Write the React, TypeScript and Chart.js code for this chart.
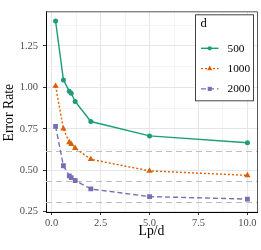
import React, { useEffect, useRef } from 'react';
import { Chart, registerables } from 'chart.js';

Chart.register(...registerables);

// ---- data ----
const LP_D = [0.2, 0.6, 0.9, 1.0, 1.2, 2, 5, 10];
const ERR_500 = [1.40, 1.045, 0.977, 0.965, 0.915, 0.794, 0.707, 0.666];
const ERR_1000 = [1.008, 0.75, 0.668, 0.657, 0.633, 0.566, 0.496, 0.469];
const ERR_2000 = [0.765, 0.527, 0.466, 0.455, 0.438, 0.387, 0.341, 0.326];
const SERIES_NAMES = ['500', '1000', '2000'];
const REF_LINES = [0.616, 0.434, 0.306];
const X_TICKS = [0, 2.5, 5, 7.5, 10];
const X_MINOR = [1.25, 3.75, 6.25, 8.75];
const Y_TICKS = [0.25, 0.5, 0.75, 1.0, 1.25];
const Y_MINOR = [0.375, 0.625, 0.875, 1.125, 1.375];
const X_TITLE = 'Lp/d';
const Y_TITLE = 'Error Rate';
const LEGEND_TITLE = 'd';

const COLORS = ['#1B9E77', '#D95F02', '#7570B3'];
const DASHES: number[][] = [[], [2, 2], [5, 3]];
const POINT_STYLES = ['circle', 'triangle', 'rect'];
const POINT_RADII = [2.5, 3.6, 3.4];
const SERIF = '"Liberation Serif", "DejaVu Serif", serif';

function drawMarker(ctx: CanvasRenderingContext2D, style: string, x: number, y: number, r: number) {
  ctx.beginPath();
  if (style === 'circle') {
    ctx.arc(x, y, r, 0, Math.PI * 2);
  } else if (style === 'triangle') {
    ctx.moveTo(x, y - r);
    ctx.lineTo(x + r * 0.866, y + r * 0.5);
    ctx.lineTo(x - r * 0.866, y + r * 0.5);
    ctx.closePath();
  } else {
    const s = r * Math.SQRT1_2;
    ctx.rect(x - s, y - s, 2 * s, 2 * s);
  }
  ctx.fill();
}

const overlayPlugin = {
  id: 'overlay',
  beforeDatasetsDraw(chart: any) {
    const { ctx, chartArea: a, scales } = chart;
    ctx.save();
    ctx.strokeStyle = '#BEBEBE';
    ctx.lineWidth = 1.2;
    ctx.setLineDash([6, 4]);
    REF_LINES.forEach((v) => {
      const y = Math.round(scales.y.getPixelForValue(v)) + 0.5;
      ctx.beginPath();
      ctx.moveTo(a.left, y);
      ctx.lineTo(a.right, y);
      ctx.stroke();
    });
    ctx.setLineDash([]);
    // top / right panel border
    ctx.strokeStyle = '#555555';
    ctx.lineWidth = 1;
    ctx.beginPath();
    ctx.moveTo(a.left, a.top + 0.5);
    ctx.lineTo(a.right + 0.5, a.top + 0.5);
    ctx.lineTo(a.right + 0.5, a.bottom);
    ctx.stroke();
    ctx.restore();
  },
  afterDraw(chart: any) {
    const { ctx, chartArea: a } = chart;
    ctx.save();
    // axis titles
    ctx.fillStyle = '#000';
    ctx.font = `13.75px ${SERIF}`;
    ctx.textAlign = 'center';
    ctx.textBaseline = 'alphabetic';
    ctx.fillText(X_TITLE, (a.left + a.right) / 2, 235);
    ctx.save();
    ctx.translate(12.7, (a.top + a.bottom) / 2 + 1);
    ctx.rotate(-Math.PI / 2);
    ctx.fillText(Y_TITLE, 0, 0);
    ctx.restore();

    // legend
    const bx = a.right - 61.5;
    const by = a.top + 3.5;
    const bw = 58;
    const bh = 86;
    ctx.fillStyle = '#FFFFFF';
    ctx.fillRect(bx, by, bw, bh);
    ctx.strokeStyle = '#444444';
    ctx.lineWidth = 1;
    ctx.strokeRect(bx, by, bw, bh);
    ctx.fillStyle = '#000';
    ctx.textAlign = 'left';
    ctx.font = `12.5px ${SERIF}`;
    ctx.fillText(LEGEND_TITLE, bx + 5, by + 12);
    chart.data.datasets.forEach((ds: any, i: number) => {
      const cy = by + 33.5 + i * 20.3;
      const x0 = bx + 5.5;
      const x1 = bx + 23;
      ctx.strokeStyle = ds.borderColor;
      ctx.lineWidth = ds.borderWidth;
      ctx.setLineDash(ds.borderDash || []);
      ctx.beginPath();
      ctx.moveTo(x0, cy);
      ctx.lineTo(x1, cy);
      ctx.stroke();
      ctx.setLineDash([]);
      ctx.fillStyle = ds.pointBackgroundColor;
      drawMarker(ctx, ds.pointStyle, (x0 + x1) / 2, cy, ds.pointRadius * 0.85);
      ctx.fillStyle = '#000';
      ctx.font = `11.3px ${SERIF}`;
      ctx.textBaseline = 'middle';
      ctx.fillText(ds.label, bx + 32, cy + 0.5);
      ctx.textBaseline = 'alphabetic';
    });
    ctx.restore();
  },
};

export default function App() {
  const canvasRef = useRef<HTMLCanvasElement | null>(null);

  useEffect(() => {
    document.body.style.margin = '0';
    const canvas = canvasRef.current;
    if (!canvas) return;
    const seriesValues = [ERR_500, ERR_1000, ERR_2000];
    const isMajor = (list: number[], v: number) => list.some((t) => Math.abs(t - v) < 1e-9);
    const gridColor = (list: number[]) => (c: any) =>
      c.tick && isMajor(list, c.tick.value) ? '#E6E6E6' : '#F1F1F1';
    const tickColor = (list: number[]) => (c: any) =>
      c.tick && isMajor(list, c.tick.value) ? '#333333' : 'rgba(0,0,0,0)';

    const chart = new Chart(canvas, {
      type: 'line',
      data: {
        datasets: SERIES_NAMES.map((name, i) => ({
          label: name,
          data: LP_D.map((x, j) => ({ x, y: seriesValues[i][j] })),
          borderColor: COLORS[i],
          backgroundColor: COLORS[i],
          pointBackgroundColor: COLORS[i],
          pointBorderColor: COLORS[i],
          borderWidth: 1.4,
          borderDash: DASHES[i],
          pointStyle: POINT_STYLES[i] as any,
          pointRadius: POINT_RADII[i],
          pointBorderWidth: 0,
          tension: 0,
          fill: false,
        })),
      },
      options: {
        animation: false,
        responsive: false,
        devicePixelRatio: 1,
        events: [],
        layout: { padding: { left: 0, right: 3, top: 4, bottom: 0 } },
        plugins: { legend: { display: false }, tooltip: { enabled: false } },
        scales: {
          x: {
            type: 'linear',
            min: -0.29,
            max: 10.49,
            afterBuildTicks: (s: any) => {
              s.ticks = [...X_TICKS, ...X_MINOR].sort((a, b) => a - b).map((v) => ({ value: v }));
            },
            afterFit: (s: any) => {
              s.height = 38;
            },
            grid: {
              color: gridColor(X_TICKS),
              lineWidth: (c: any) => (c.tick && isMajor(X_TICKS, c.tick.value) ? 1 : 0.8),
              tickColor: tickColor(X_TICKS),
              tickLength: 3,
              drawTicks: true,
            },
            border: { display: true, color: '#000000', width: 1 },
            ticks: {
              autoSkip: false,
              maxRotation: 0,
              padding: 2,
              color: '#4D4D4D',
              font: { family: SERIF, size: 10.5 },
              callback: (v: any) => (isMajor(X_TICKS, Number(v)) ? Number(v).toFixed(1) : ''),
            },
          },
          y: {
            type: 'linear',
            min: 0.248,
            max: 1.459,
            afterBuildTicks: (s: any) => {
              s.ticks = [...Y_TICKS, ...Y_MINOR].sort((a, b) => a - b).map((v) => ({ value: v }));
            },
            afterFit: (s: any) => {
              s.width = 46;
            },
            grid: {
              color: gridColor(Y_TICKS),
              lineWidth: (c: any) => (c.tick && isMajor(Y_TICKS, c.tick.value) ? 1 : 0.8),
              tickColor: tickColor(Y_TICKS),
              tickLength: 3,
              drawTicks: true,
            },
            border: { display: true, color: '#000000', width: 1 },
            ticks: {
              autoSkip: false,
              padding: 5,
              color: '#4D4D4D',
              font: { family: SERIF, size: 10.5 },
              callback: (v: any) => (isMajor(Y_TICKS, Number(v)) ? Number(v).toFixed(2) : ''),
            },
          },
        },
      },
      plugins: [overlayPlugin],
    });
    return () => chart.destroy();
  }, []);

  return (
    <div style={{ width: 261, height: 250 }}>
      <canvas ref={canvasRef} width={261} height={250} style={{ display: 'block' }} />
    </div>
  );
}
